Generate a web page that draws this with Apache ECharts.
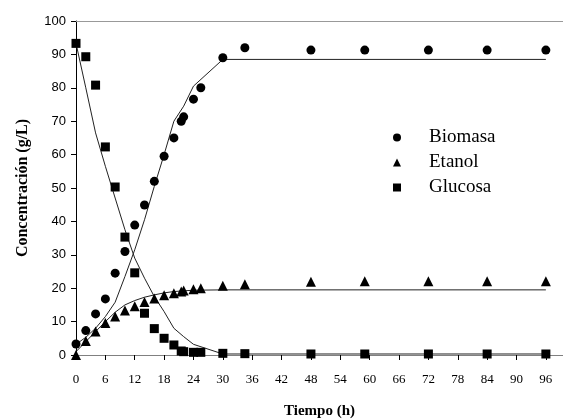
<!DOCTYPE html>
<html>
<head>
<meta charset="utf-8">
<script src="https://cdn.jsdelivr.net/npm/echarts@6/dist/echarts.min.js"></script>
<style>
  html, body { margin: 0; padding: 0; background: #fff; }
  #chart { width: 563px; height: 419px; }
</style>
</head>
<body>
<div id="chart"></div>
<script>
// puntos experimentales
const tiempos = [0, 2, 4, 6, 8, 10, 12, 14, 16, 18, 20, 21.5, 22, 24, 25.5, 30, 34.5, 48, 59, 72, 84, 96];
const biomasa = [3.3, 7.3, 12.3, 16.8, 24.5, 31, 38.9, 44.9, 52, 59.5, 65, 70, 71.3, 76.6, 80, 89, 92, 91.3, 91.3, 91.3, 91.3, 91.3];
const etanol = [0, 4.2, 7, 9.6, 11.5, 13.3, 14.6, 15.9, 16.9, 17.9, 18.5, 19, 19.3, 19.7, 20, 20.7, 21.2, 21.9, 22.1, 22.1, 22.1, 22.1];
const glucosa = [93.3, 89.3, 80.8, 62.3, 50.3, 35.3, 24.6, 12.5, 7.9, 5, 3, 1.2, 1, 0.8, 0.8, 0.5, 0.4, 0.3, 0.3, 0.3, 0.3, 0.3];

// curvas del modelo
const tiemposModelo = [0, 2, 4, 6, 8, 10, 12, 14, 16, 18, 20, 22, 24, 30, 96];
const biomasaModelo = [3.2, 5.3, 8, 11.5, 15.8, 23.5, 31.5, 40.5, 50.5, 60, 70, 74.5, 80.5, 88.5, 88.5];
const etanolModelo = [1, 4, 7, 10, 12.8, 15, 16.3, 17.3, 18, 18.6, 19, 19.2, 19.4, 19.5, 19.5];
const glucosaModelo = [93.3, 80, 66.5, 56.5, 47, 37.5, 29, 23, 17.5, 13, 8, 5.5, 3.2, 0.3, 0.3];

const xTicks = [0, 6, 12, 18, 24, 30, 36, 42, 48, 54, 60, 66, 72, 78, 84, 90, 96];

const pares = (xs, ys) => xs.map((x, i) => [x, ys[i]]);

const chart = echarts.init(document.getElementById('chart'));

const puntos = (name, symbol, size, data) => ({
  name: name,
  type: 'scatter',
  symbol: symbol,
  symbolSize: size,
  itemStyle: { color: '#000', opacity: 1 },
  data: pares(tiempos, data),
  z: 3
});

const modelo = (name, data) => ({
  name: name,
  type: 'line',
  symbol: 'none',
  lineStyle: { color: '#222', width: 1 },
  data: pares(tiemposModelo, data),
  z: 2
});

const option = {
  animation: false,
  backgroundColor: '#fff',
  grid: { left: 76, right: 0, top: 21, bottom: 64, outerBoundsMode: 'none' },
  legend: {
    orient: 'vertical',
    left: 388,
    top: 123,
    itemWidth: 8,
    itemHeight: 8,
    itemGap: 6,
    data: [
      { name: 'Biomasa', icon: 'circle' },
      { name: 'Etanol', icon: 'triangle' },
      { name: 'Glucosa', icon: 'rect' }
    ],
    textStyle: {
      fontFamily: 'Liberation Serif',
      fontSize: 19,
      lineHeight: 19,
      color: '#000',
      padding: [0, 0, 0, 23]
    }
  },
  xAxis: [{
    type: 'value',
    min: 0,
    max: 99.5,
    interval: 6,
    name: 'Tiempo (h)',
    nameLocation: 'middle',
    nameGap: 49,
    nameTextStyle: { fontFamily: 'Liberation Serif', fontWeight: 'bold', fontSize: 15, color: '#000' },
    axisLine: { lineStyle: { color: '#808080', width: 1 } },
    axisTick: { show: true, length: 5, customValues: xTicks, lineStyle: { color: '#000' } },
    axisLabel: {
      customValues: xTicks,
      margin: 18,
      fontFamily: 'Liberation Serif',
      fontSize: 13,
      color: '#000'
    },
    splitLine: { show: false }
  }, {
    type: 'value',
    position: 'top',
    min: 0,
    max: 99.5,
    axisLine: { show: true, lineStyle: { color: '#999', width: 1 } },
    axisTick: { show: false },
    axisLabel: { show: false },
    splitLine: { show: false }
  }],
  yAxis: {
    type: 'value',
    min: 0,
    max: 100,
    interval: 10,
    name: 'Concentración (g/L)',
    nameLocation: 'middle',
    nameGap: 45,
    nameTextStyle: { fontFamily: 'Liberation Serif', fontWeight: 'bold', fontSize: 16, color: '#000' },
    axisLine: { show: true, lineStyle: { color: '#000', width: 1 } },
    axisTick: { show: true, length: 5, lineStyle: { color: '#000' } },
    axisLabel: { margin: 10, fontFamily: 'Liberation Sans', fontSize: 13, color: '#000' },
    splitLine: { show: false }
  },
  series: [
    modelo('Biomasa modelo', biomasaModelo),
    modelo('Etanol modelo', etanolModelo),
    modelo('Glucosa modelo', glucosaModelo),
    puntos('Biomasa', 'circle', 9, biomasa),
    puntos('Etanol', 'triangle', 10, etanol),
    puntos('Glucosa', 'rect', 9, glucosa)
  ]
};

chart.setOption(option);
</script>
</body>
</html>
